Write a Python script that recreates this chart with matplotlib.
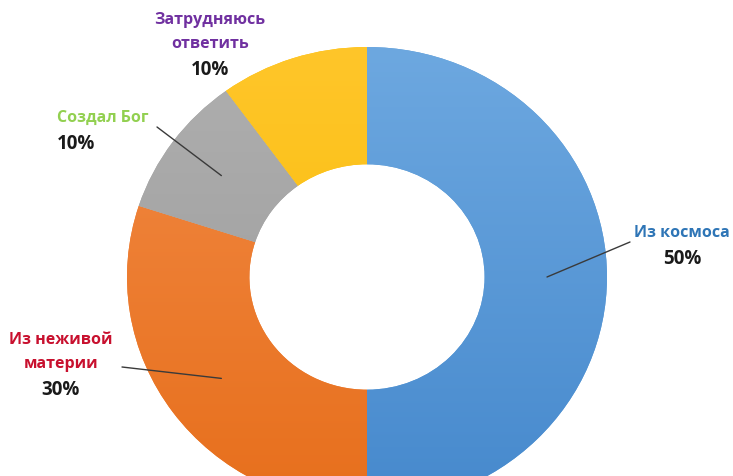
import numpy as np
import matplotlib.pyplot as plt
from matplotlib.colors import LinearSegmentedColormap

plt.rcParams['font.family'] = ['Open Sans', 'DejaVu Sans']

# данные
labels = ['Из космоса', 'Из неживой\nматерии', 'Создал Бог', 'Затрудняюсь\nответить']
values = [50, 30, 10, 10]
colors = ['#5B9BD5', '#ED7D31', '#A5A5A5', '#FFC000']
tops = ['#6DA8E0', '#F28A45', '#AFAFAF', '#FFC62A']
bots = ['#4689CD', '#E76F1C', '#999999', '#F6BA00']
label_colors = ['#2E75B6', '#C8102E', '#92D050', '#7030A0']

W, H = 733, 477
fig = plt.figure(figsize=(W / 100, H / 100), dpi=100)
ax = fig.add_axes([0, 0, 1, 1])

# центр кольца ~ (367, 278) px, радиусы 240 (x) / 230 (y)
cx, cy, rx, ry = 367, 278, 240, 230
xlim = (-cx / rx, (W - cx) / rx)
ylim = (-(H - cy) / ry, cy / ry)

wedges, _ = ax.pie(values, colors=colors, startangle=90, counterclock=False,
                   wedgeprops=dict(width=0.51, linewidth=0))

# градиент как в excel
grad = np.linspace(0, 1, 256)[:, None]
for w, ct, cb in zip(wedges, tops, bots):
    cm = LinearSegmentedColormap.from_list('g', [ct, cb])
    im = ax.imshow(grad, extent=(-1, 1, -1, 1), origin='upper', cmap=cm,
                   aspect='auto', zorder=2)
    im.set_clip_path(w)

ax.set_xlim(*xlim)
ax.set_ylim(*ylim)
ax.set_aspect('auto')
ax.axis('off')


def px(x, y):
    return (x / W, 1 - y / H)


# подписи: (позиция первой строки в px, конец выноски в px или None)
lab_pos = [(682, 233), (61, 340), (57, 118), (210, 20)]
line_end = [(630, 243), (122, 368), (157, 128), None]
ha_list = ['center', 'center', 'left', 'center']
gap = 24

for i, w in enumerate(wedges):
    ang = np.deg2rad((w.theta1 + w.theta2) / 2)
    r = 0.75
    inner = (r * np.cos(ang), r * np.sin(ang))
    if line_end[i] is not None:
        ax.annotate('', xy=inner, xycoords='data',
                    xytext=px(*line_end[i]), textcoords='figure fraction',
                    arrowprops=dict(arrowstyle='-', color='#3a3a3a', lw=1.0,
                                    shrinkA=0, shrinkB=0), zorder=5)
    x0, y0 = lab_pos[i]
    lines = labels[i].split('\n')
    for k, s in enumerate(lines):
        fig.text(*px(x0, y0 + k * gap), s, color=label_colors[i], fontsize=11.5,
                 fontweight='bold', ha=ha_list[i], va='center')
    fig.text(*px(x0, y0 + len(lines) * gap + 2), '%d%%' % values[i],
             color='#1a1a1a', fontsize=13.5, fontweight='bold',
             ha=ha_list[i], va='center')

fig.savefig('out.png', dpi=100)
